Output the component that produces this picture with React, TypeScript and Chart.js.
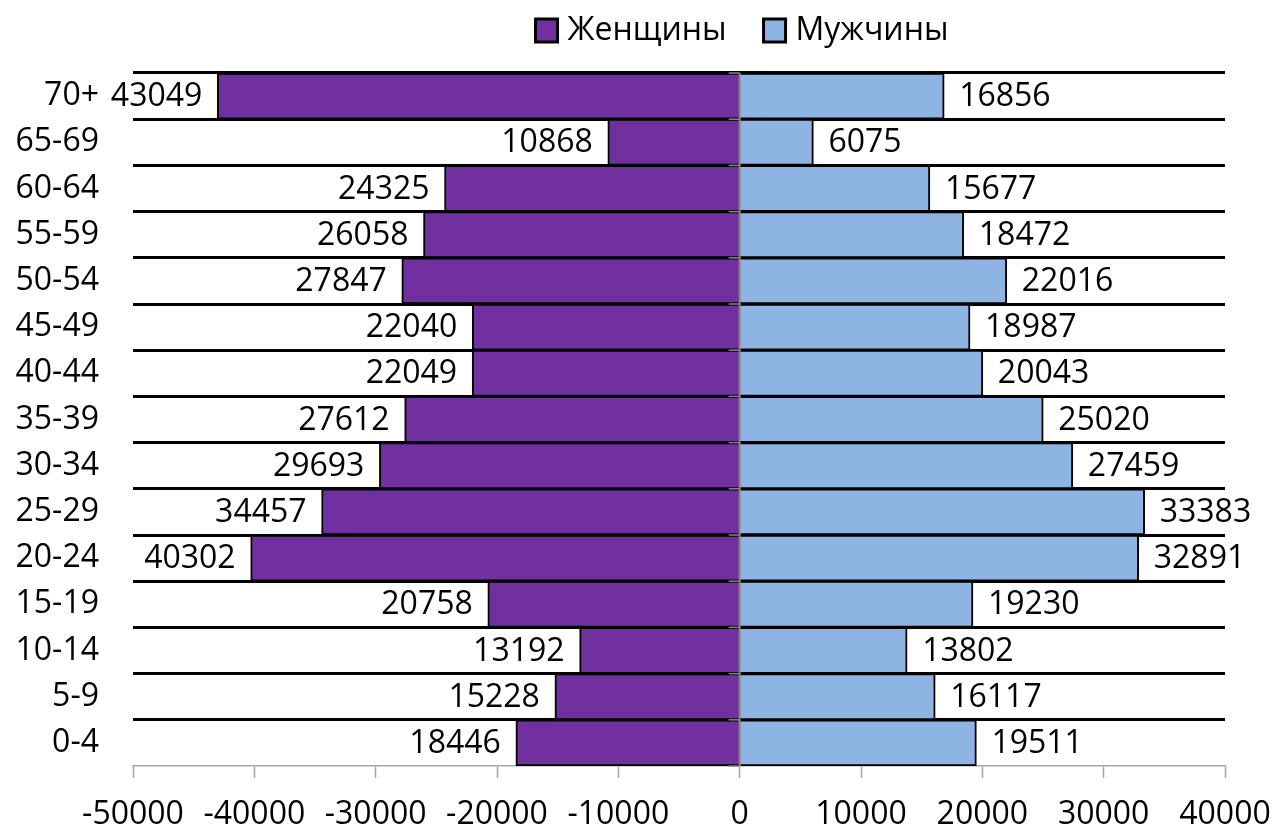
import React, { useEffect, useRef } from "react";
import { Chart, registerables } from "chart.js";

Chart.register(...registerables);

const categories = ["70+", "65-69", "60-64", "55-59", "50-54", "45-49", "40-44", "35-39", "30-34", "25-29", "20-24", "15-19", "10-14", "5-9", "0-4"];
const women = [43049, 10868, 24325, 26058, 27847, 22040, 22049, 27612, 29693, 34457, 40302, 20758, 13192, 15228, 18446];
const men = [16856, 6075, 15677, 18472, 22016, 18987, 20043, 25020, 27459, 33383, 32891, 19230, 13802, 16117, 19511];
const seriesNames = ["Женщины", "Мужчины"];
const seriesColors = ["#7030A0", "#8DB4E2"];
const xMin = -50000;
const xMax = 40000;
const xStep = 10000;

const FONT = "'Open Sans', 'DejaVu Sans', sans-serif";
const FS = 32;

const legendPlugin = {
  id: "customLegend",
  afterDraw(chart: any) {
    const { ctx } = chart;
    ctx.save();
    ctx.font = `${FS}px ${FONT}`;
    ctx.textBaseline = "middle";
    ctx.textAlign = "left";
    const box = 22;
    const gap = 10;
    const itemGap = 37;
    const widths = seriesNames.map((n) => ctx.measureText(n).width);
    const total = widths.reduce((a, w) => a + box + gap + w, 0) + itemGap * (seriesNames.length - 1);
    let x = 742 - total / 2;
    const cy = 30;
    seriesNames.forEach((name, i) => {
      ctx.fillStyle = seriesColors[i];
      ctx.fillRect(x, cy - box / 2, box, box + 1);
      ctx.strokeStyle = "#000";
      ctx.lineWidth = 3;
      ctx.strokeRect(x, cy - box / 2, box, box + 1);
      ctx.fillStyle = "#000";
      ctx.fillText(name, x + box + gap, cy + 1);
      x += box + gap + widths[i] + itemGap;
    });
    ctx.restore();
  },
};

const overlayPlugin = {
  id: "overlay",
  afterDatasetsDraw(chart: any) {
    const { ctx, chartArea, scales } = chart;
    const xs = scales.x;
    const ys = scales.y;
    const x0 = xs.getPixelForValue(0);
    ctx.save();
    ctx.strokeStyle = "#868686";
    ctx.lineWidth = 2;
    ctx.beginPath();
    ctx.moveTo(x0, chartArea.top);
    ctx.lineTo(x0, chartArea.bottom);
    ctx.stroke();
    ctx.lineWidth = 1.5;
    for (let i = 0; i <= categories.length; i++) {
      const yy = ys.getPixelForValue(i - 0.5);
      ctx.beginPath();
      ctx.moveTo(x0 - 11, yy);
      ctx.lineTo(x0, yy);
      ctx.stroke();
    }
    ctx.font = `${FS}px ${FONT}`;
    ctx.fillStyle = "#000";
    ctx.textBaseline = "middle";
    chart.data.datasets.forEach((ds: any, di: number) => {
      const meta = chart.getDatasetMeta(di);
      meta.data.forEach((bar: any, i: number) => {
        const v = ds.data[i];
        const p = bar.getProps(["x", "y"], true);
        const txt = String(Math.abs(v));
        if (v < 0) {
          ctx.textAlign = "right";
          ctx.fillText(txt, p.x - 15, p.y + 1);
        } else {
          ctx.textAlign = "left";
          ctx.fillText(txt, p.x + 15, p.y + 1);
        }
      });
    });
    ctx.restore();
  },
};

export default function App() {
  const ref = useRef<HTMLCanvasElement | null>(null);

  useEffect(() => {
    if (!ref.current) return;
    const chart = new Chart(ref.current, {
      type: "bar",
      data: {
        labels: categories,
        datasets: [
          {
            label: seriesNames[0],
            data: women.map((v) => -v),
            backgroundColor: seriesColors[0],
            borderColor: "#000",
            borderWidth: 2,
            borderSkipped: "start",
            barPercentage: 1,
            categoryPercentage: 1,
          },
          {
            label: seriesNames[1],
            data: men,
            backgroundColor: seriesColors[1],
            borderColor: "#000",
            borderWidth: 2,
            borderSkipped: "start",
            barPercentage: 1,
            categoryPercentage: 1,
          },
        ],
      },
      options: {
        indexAxis: "y",
        responsive: false,
        animation: false,
        devicePixelRatio: 1,
        layout: { padding: { left: 0, right: 50, top: 73, bottom: 0 } },
        plugins: {
          legend: { display: false },
          tooltip: { enabled: false },
        },
        scales: {
          x: {
            type: "linear",
            stacked: true,
            min: xMin,
            max: xMax,
            ticks: {
              stepSize: xStep,
              color: "#000",
              padding: 18,
              font: { family: FONT, size: FS },
              callback: (v: any) => String(v),
            },
            grid: {
              drawOnChartArea: false,
              drawTicks: true,
              tickLength: 12,
              tickColor: "#A6A6A6",
              tickWidth: 1.5,
            },
            border: { display: true, color: "#A6A6A6", width: 1.5 },
            afterFit: (s: any) => {
              s.height = 62;
              s.paddingLeft = 0;
              s.paddingRight = 0;
            },
          },
          y: {
            type: "category",
            stacked: true,
            ticks: {
              color: "#000",
              padding: 34,
              font: { family: FONT, size: FS },
            },
            grid: {
              offset: true,
              drawTicks: false,
              lineWidth: 3,
              color: (c: any) => (c.type === "tick" ? "#000" : "rgba(0,0,0,0)"),
            },
            border: { display: false },
            afterFit: (s: any) => {
              s.width = 133;
              s.paddingTop = 0;
              s.paddingBottom = 0;
            },
          },
        },
      },
      plugins: [overlayPlugin, legendPlugin],
    });
    return () => chart.destroy();
  }, []);

  return (
    <div style={{ position: "absolute", left: 0, top: 0, width: 1275, height: 828, background: "#fff" }}>
      <canvas ref={ref} width={1275} height={828} style={{ display: "block" }} />
    </div>
  );
}
